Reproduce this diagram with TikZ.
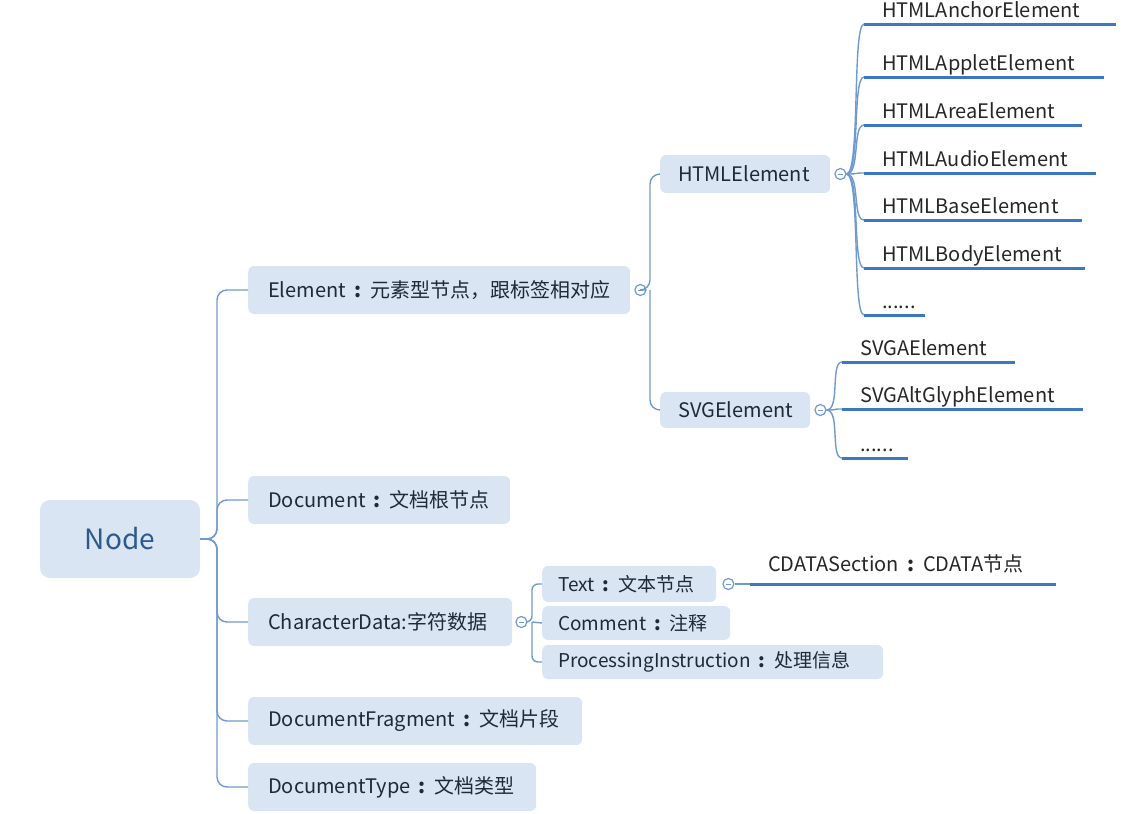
\documentclass[tikz,border=0pt]{standalone}
\usepackage{fontspec}
\setmainfont{Noto Sans CJK SC}
\definecolor{boxfill}{HTML}{DAE5F3}
\definecolor{linec}{HTML}{6F9AD0}
\definecolor{ulc}{HTML}{3C78C2}
\definecolor{txt}{HTML}{1E2A38}
\definecolor{nodetxt}{HTML}{2C5A8C}
\newcommand{\cln}{\hspace{8pt}\textbf{:}\hspace{9pt}}
\tikzset{
 box/.style={fill=boxfill, rounded corners=6, text=txt, font=\fontsize{20}{23}\selectfont, minimum height=48, inner xsep=20, anchor=west, align=left},
 sbox/.style={box, minimum height=36, inner xsep=16, font=\fontsize{19}{22}\selectfont},
 conn/.style={draw=linec, line width=1.4, rounded corners=10},
 curv/.style={draw=linec, line width=1.4},
 uline/.style={draw=ulc, line width=3},
 leaf/.style={anchor=south west, inner xsep=18, inner ysep=2, text height=14, text depth=4, font=\fontsize{20}{23}\selectfont, text=black!85, align=left},
 tog/.style={circle, draw=linec, fill=white, line width=1.2, minimum size=11, inner sep=0,
   path picture={\draw[draw=linec, line width=0.9] ([xshift=-2.5pt]path picture bounding box.center) -- ([xshift=2.5pt]path picture bounding box.center);}},
}
\begin{document}
\begin{tikzpicture}[x=1pt,y=-1pt]
\useasboundingbox (0,0) rectangle (1136,814);
% root
\node[box, anchor=center, minimum width=160, minimum height=78, rounded corners=10, font=\fontsize{28}{31}\selectfont, text=nodetxt, align=center] (root) at (120,539) {Node};
% level 1
\node[box, text width=342] (element) at (248,290) {\mbox{Element\cln 元素型节点，跟标签相对应}};
\node[box, text width=222] (document) at (248,500) {\mbox{Document\cln 文档根节点}};
\node[box, text width=224] (chardata) at (248,622) {\mbox{CharacterData:字符数据}};
\node[box, text width=294] (fragment) at (248,721) {\mbox{DocumentFragment\cln 文档片段}};
\node[box, text width=248] (doctype) at (248,787) {\mbox{DocumentType\cln 文档类型}};
\coordinate (t0) at (217,539);
\foreach \c in {element,document,chardata,fragment,doctype}
  \draw[conn] (root.east) -- (t0) |- (\c.west);
% Element children
\node[tog] (etog) at ([xshift=10]element.east) {};
\coordinate (t1) at (650,290);
\node[box, minimum height=38, inner xsep=18, text width=134] (html) at (660,174) {HTMLElement};
\node[box, minimum height=36, inner xsep=18, text width=114] (svg) at (660,410) {SVGElement};
\draw[conn] (etog.east) -- (t1) |- (html.west);
\draw[conn] (t1) |- (svg.west);
% HTML leaves
\node[tog] (htog) at ([xshift=10]html.east) {};
\node[leaf, text width=216] (h1) at (864,24) {HTMLAnchorElement};
\node[leaf, text width=204] (h2) at (864,77) {HTMLAppletElement};
\node[leaf, text width=182] (h3) at (864,125) {HTMLAreaElement};
\node[leaf, text width=196] (h4) at (864,173) {HTMLAudioElement};
\node[leaf, text width=182] (h5) at (864,220) {HTMLBaseElement};
\node[leaf, text width=185] (h6) at (864,268) {HTMLBodyElement};
\node[leaf, text width=25] (h7) at (864,315) {......};
\foreach \c in {h1,h2,h3,h4,h5,h6,h7}{
  \draw[curv] (htog.east) .. controls +(14,0) and +(-12,0) .. (\c.south west);
  \draw[uline] (\c.south west) -- (\c.south east);
}
% SVG leaves
\node[tog] (stog) at ([xshift=10]svg.east) {};
\node[leaf, text width=137] (s1) at (842,362) {SVGAElement};
\node[leaf, text width=205] (s2) at (842,409) {SVGAltGlyphElement};
\node[leaf, text width=30] (s3) at (842,458) {......};
\foreach \c in {s1,s2,s3}{
  \draw[curv] (stog.east) .. controls +(14,0) and +(-12,0) .. (\c.south west);
  \draw[uline] (\c.south west) -- (\c.south east);
}
% CharacterData children
\node[tog] (ctog) at ([xshift=9]chardata.east) {};
\coordinate (t2) at (532,622);
\node[sbox, text width=142] (text) at (542,584) {\mbox{Text\cln 文本节点}};
\node[sbox, minimum height=34, text width=156] (comment) at (542,623) {\mbox{Comment\cln 注释}};
\node[sbox, minimum height=34, text width=309] (pi) at (542,662) {\mbox{ProcessingInstruction\cln 处理信息}};
\draw[conn, rounded corners=6] (ctog.east) -- (t2) |- (text.west);
\draw[conn, rounded corners=6] (t2) |- (pi.west);
\draw[conn] (t2) -- (comment.west);
% CDATA
\node[tog] (ttog) at ([xshift=12]text.east) {};
\node[leaf, text width=270, inner ysep=8] (cdata) at (750,584) {\mbox{CDATASection\cln CDATA节点}};
\draw[conn] (ttog.east) -- (cdata.south west);
\draw[uline] (cdata.south west) -- (cdata.south east);
\end{tikzpicture}
\end{document}
